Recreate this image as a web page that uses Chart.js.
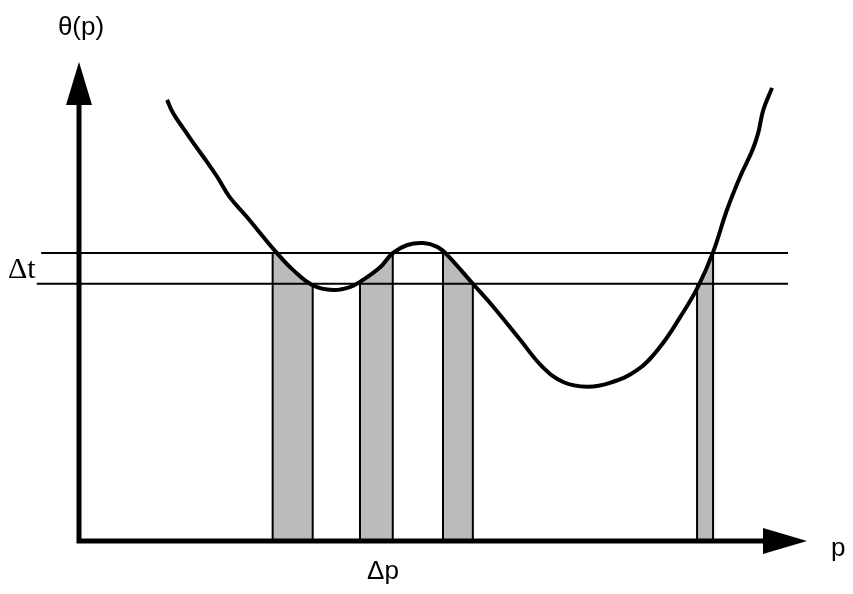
<!DOCTYPE html>
<html lang="en">
	<head>
		<meta charset="utf-8" />
		<title>θ(p)</title>
		<script src="https://cdn.jsdelivr.net/npm/chart.js"></script>
		<style>
			html, body { margin: 0; padding: 0; background: #fff; }
			.graphic { width: 853px; height: 594px; position: relative; }
		</style>
	</head>
	<body>
		<div class="graphic">
			<canvas id="myChart"></canvas>
		</div>
		<script>
			/* curve theta(p) (p and theta both 0..100) */
			const curveP = [12.1, 12.9, 14.3, 15.7, 17.6, 19.0, 20.7, 23.1, 25.3, 27.2, 29.4, 32.1, 34.9, 37.2, 39.0, 41.4, 43.1, 45.1, 47.3, 49.2, 50.6, 54.1, 56.9, 60.6, 63.7, 66.5, 69.8, 72.9, 76.7, 79.8, 82.6, 85.0, 87.1, 89.0, 90.8, 92.5, 93.3, 94.0, 95.2];
			const curveTheta = [92.1, 89.4, 86.2, 83.1, 79.1, 76.0, 71.8, 67.6, 63.5, 60.1, 56.6, 53.4, 52.4, 53.0, 54.5, 57.2, 60.1, 61.8, 62.2, 61.4, 59.7, 53.7, 48.9, 42.0, 36.3, 33.2, 32.2, 33.0, 35.7, 40.5, 46.8, 53.0, 60.3, 69.1, 76.0, 81.6, 85.2, 90.0, 94.6];

			/* the two threshold lines (delta t band) */
			const bandTheta = [53.7, 60.1];
			const bandStart = [-5.8, -5.2];
			const bandEnd = [97.4, 97.4];

			/* shaded strips (delta p) */
			const stripLeft = [26.6, 38.6, 50.0, 84.9];
			const stripRight = [32.1, 43.1, 54.1, 87.1];

			const axisMax = 100;

			function thetaAt(p)
			{
				for (var i = 1; i < curveP.length; i++)
				{
					if (p <= curveP[i])
					{
						var t = (p - curveP[i - 1]) / (curveP[i] - curveP[i - 1]);
						return curveTheta[i - 1] + t * (curveTheta[i] - curveTheta[i - 1]);
					}
				}
				return curveTheta[curveTheta.length - 1];
			}

			function clampBand(v)
			{
				return Math.min(bandTheta[1], Math.max(bandTheta[0], v));
			}

			var datasets = [];

			// the curve itself, on top
			datasets.push({
				data: curveP.map((p, i) => ({x: p, y: curveTheta[i]})),
				borderColor: '#000',
				borderWidth: 4,
				tension: 0.4,
				pointRadius: 0,
				fill: false,
				clip: false,
				order: 0
			});

			// horizontal threshold lines
			for (var b = 0; b < bandTheta.length; b++)
			{
				datasets.push({
					data: [{x: bandStart[b], y: bandTheta[b]}, {x: bandEnd[b], y: bandTheta[b]}],
					borderColor: '#000',
					borderWidth: 2,
					pointRadius: 0,
					fill: false,
					clip: false,
					order: 1
				});
			}

			// strips: grey area under the curve plus the two vertical edges
			for (var s = 0; s < stripLeft.length; s++)
			{
				var x0 = stripLeft[s], x1 = stripRight[s];
				var pts = [{x: x0, y: clampBand(thetaAt(x0))}];
				for (var i = 0; i < curveP.length; i++)
				{
					if (curveP[i] > x0 && curveP[i] < x1)
						pts.push({x: curveP[i], y: Math.min(bandTheta[1], curveTheta[i])});
				}
				pts.push({x: x1, y: clampBand(thetaAt(x1))});
				datasets.push({
					data: pts,
					borderWidth: 0,
					borderColor: 'rgba(0,0,0,0)',
					backgroundColor: '#bbbbbb',
					pointRadius: 0,
					fill: 'origin',
					clip: false,
					order: 3
				});
				[x0, x1].forEach(function (xe) {
					datasets.push({
						data: [{x: xe, y: 0}, {x: xe, y: clampBand(thetaAt(xe))}],
						borderColor: '#000',
						borderWidth: 2,
						pointRadius: 0,
						fill: false,
						clip: false,
						order: 2
					});
				});
			}

			/* axes with arrow heads and the labels */
			const axesPlugin = {
				id: 'axes',
				afterDatasetsDraw(chart)
				{
					var ctx = chart.ctx;
					var xs = chart.scales.x, ys = chart.scales.y;
					var x0 = xs.getPixelForValue(0), y0 = ys.getPixelForValue(0);
					var xTip = xs.getPixelForValue(axisMax), yTip = ys.getPixelForValue(axisMax);
					ctx.save();
					ctx.strokeStyle = '#000';
					ctx.fillStyle = '#000';
					ctx.lineWidth = 5;
					ctx.lineCap = 'butt';
					ctx.beginPath();
					ctx.moveTo(x0, y0 + 2.5);
					ctx.lineTo(x0, yTip + 40);
					ctx.moveTo(x0 - 2.5, y0);
					ctx.lineTo(xTip - 40, y0);
					ctx.stroke();
					// arrow heads
					ctx.beginPath();
					ctx.moveTo(x0, yTip);
					ctx.lineTo(x0 - 13, yTip + 43);
					ctx.lineTo(x0 + 13, yTip + 43);
					ctx.closePath();
					ctx.fill();
					ctx.beginPath();
					ctx.moveTo(xTip, y0);
					ctx.lineTo(xTip - 44, y0 - 13);
					ctx.lineTo(xTip - 44, y0 + 13);
					ctx.closePath();
					ctx.fill();

					ctx.textBaseline = 'alphabetic';
					ctx.font = '26px "Liberation Sans", Arial, sans-serif';
					ctx.textAlign = 'center';
					ctx.fillText('θ(p)', x0 + 2, 35);
					ctx.fillText('Δp', 383, 579);
					ctx.textAlign = 'left';
					ctx.fillText('p', 831, 556);
					ctx.font = '30px "Liberation Serif", "Times New Roman", serif';
					ctx.fillText('Δt', 8, 278);
					ctx.restore();
				}
			};

			new Chart(document.getElementById('myChart'), {
				type: 'line',
				data: { datasets: datasets },
				options: {
					responsive: true,
					maintainAspectRatio: false,
					animation: false,
					layout: { padding: { left: 79, right: 46, top: 62, bottom: 53 } },
					plugins: { legend: { display: false }, tooltip: { enabled: false } },
					scales: {
						x: { type: 'linear', min: 0, max: axisMax, display: false },
						y: { type: 'linear', min: 0, max: axisMax, display: false }
					}
				},
				plugins: [axesPlugin]
			});
		</script>
	</body>
</html>
